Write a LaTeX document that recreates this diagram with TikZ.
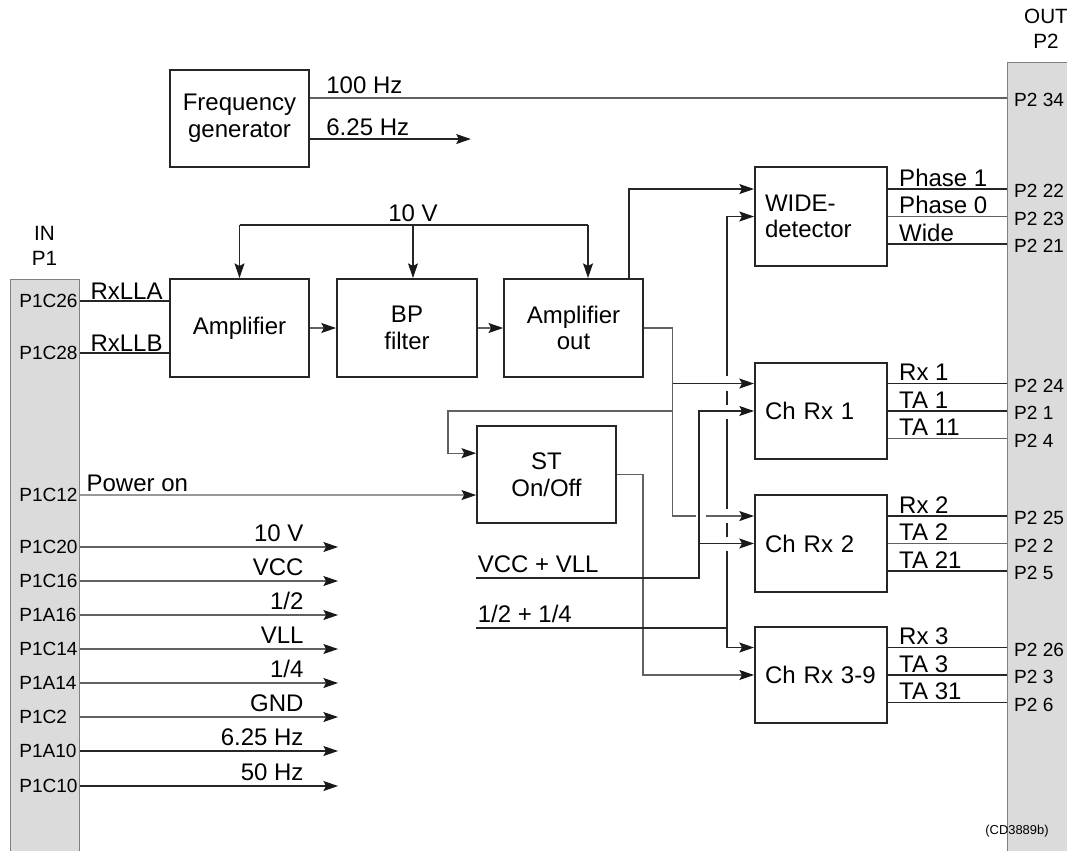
\documentclass[tikz,border=0pt]{standalone}
\usepackage{fontspec}
\setmainfont{Liberation Sans}
\usetikzlibrary{arrows.meta, positioning}
\colorlet{wirecol}{black!85}
\colorlet{wiregray}{black!62}
\colorlet{barfill}{black!14}
\colorlet{bardraw}{black!50}
\newcommand{\blkfont}{\fontsize{18pt}{20pt}\selectfont}
\newcommand{\pinfont}{\fontsize{14.3pt}{16pt}\selectfont}
\newcommand{\hdrfont}{\fontsize{15.5pt}{18pt}\selectfont}
\newcommand{\tagfont}{\fontsize{9.7pt}{11pt}\selectfont}
\tikzset{
  >={Stealth[length=11pt, width=7.5pt, inset=2pt, color=black!90]},
  blk/.style={draw=black!85, line width=1.5pt, minimum width=104pt, minimum height=73pt, inner sep=0pt, align=center, font=\blkfont},
  rx blk/.style={blk, minimum width=99pt, minimum height=72pt, text width=84pt, inner xsep=7.5pt, align=left},
  bar/.style={draw=bardraw, fill=barfill, line width=0.8pt, anchor=north west, inner sep=0pt},
  wire/.style={draw=wirecol, line width=0.85pt},
  gray wire/.style={draw=wiregray, line width=0.85pt},
  sig/.style={font=\blkfont, inner sep=1pt},
  out sig/.style={sig, pos=0, anchor=base west, xshift=7pt, yshift=2pt},
  supply sig/.style={sig, anchor=base east, xshift=-24.5pt, yshift=4pt},
  p1 pin/.style={font=\pinfont, inner sep=1pt, anchor=west, xshift=-47pt},
  p2 pin/.style={font=\pinfont, inner sep=1pt, anchor=west, xshift=4pt, yshift=-1.5pt},
  hdr/.style={font=\hdrfont, inner sep=0pt}
}

\begin{document}
\begin{tikzpicture}[x=0.75pt, y=-0.75pt]
  \useasboundingbox (0,0) rectangle (1067,850);

  % --- connectors P1 / P2 ---
  \node[bar, minimum width=51.75pt, minimum height=435pt] (p1) at (10,279) {};
  \node[bar, minimum width=52.5pt, minimum height=600pt] (p2) at (1007,62) {};
  \node[hdr] (in) at (44.5,233) {IN};
  \node[hdr] (in p1) at (44.5,258) {P1};
  \node[hdr] (out) at (1046,16) {OUT};
  \node[hdr] (out p2) at (1046,41) {P2};

  % --- blocks ---
  \node[blk] (freq) at (239.5,118.5) {Frequency\\generator};
  \node[blk, minimum height=73.5pt] (amp) at (239.5,328) {Amplifier};
  \node[blk, minimum width=105pt, minimum height=73.5pt] (bp) at (407,328) {BP\\filter};
  \node[blk, minimum height=73.5pt] (ampout) at (573.5,328) {Amplifier\\out};
  \node[blk] (st) at (546.5,474.5) {ST\\On/Off};
  \node[rx blk, minimum height=74pt] (wide) at (821,216.5) {WIDE-\\detector};
  \node[rx blk] (rx1) at (821,411) {Ch Rx 1};
  \node[rx blk, minimum height=73pt] (rx2) at (821,543.5) {Ch Rx 2};
  \node[rx blk] (rx3) at (821,675) {Ch Rx 3-9};

  % --- frequency generator outputs ---
  \draw[gray wire] ([yshift=15.4pt]freq.east) coordinate (f100) -- (f100 -| p2.west)
    node[sig, pos=0, anchor=base west, xshift=11pt, yshift=3.5pt] {100 Hz} node[p2 pin] {P2 34};
  \draw[wire,->] ([yshift=-15.4pt]freq.east) -- ++(161,0)
    node[sig, pos=0, anchor=base west, xshift=11pt, yshift=3pt] {6.25 Hz};

  % --- receiver inputs ---
  \draw[wire] (p1.east |- 0,301) node[p1 pin] {P1C26} -- ([yshift=20.25pt]amp.west)
    node[sig, anchor=base east, xshift=-3.5pt, yshift=1.5pt] {RxLLA};
  \draw[wire] (p1.east |- 0,353) node[p1 pin] {P1C28} -- ([yshift=-18.75pt]amp.west)
    node[sig, anchor=base east, xshift=-3.5pt, yshift=1.5pt] {RxLLB};

  % --- 10 V bus ---
  \coordinate (v10) at (413,225);
  \coordinate (ao tap) at ([xshift=10.9pt]ampout.north);
  \draw[wire] (amp.north |- v10) -- (ao tap |- v10);
  \node[sig, anchor=base, yshift=3pt] (v10 lbl) at (v10) {10 V};
  \draw[wire,->] (amp.north |- v10) -- (amp.north);
  \draw[wire,->] (v10) -- (v10 |- bp.north);
  \draw[wire,->] (ao tap |- v10) -- (ao tap);

  % --- amplifier chain ---
  \draw[gray wire,->] (amp.east) -- (bp.west);
  \draw[gray wire,->] (bp.east) -- (ampout.west);

  % --- input points of detector and channels ---
  \coordinate (wide a) at ([yshift=20.6pt]wide.west);
  \coordinate (rx1 a) at ([yshift=20.6pt]rx1.west);
  \coordinate (rx2 a) at ([yshift=20.6pt]rx2.west);
  \coordinate (rx3 a) at ([yshift=20.6pt]rx3.west);
  \coordinate (ja) at ([xshift=21.75pt]ampout.east);
  \coordinate (jb) at (699,0);
  \coordinate (jc) at (727,0);
  \coordinate (jd) at (643,0);
  \coordinate (jf) at (448,0);

  % amplifier out -> detector / channels / ST
  \draw[wire,->] ([xshift=41.6pt]ampout.north) |- (wide a);
  \draw[gray wire,->] (ampout.east) -| (ja |- rx2 a) -- ++(23,0) ++(10,0) -- (rx2 a);
  \draw[wire,->] (ja |- rx1 a) -- (rx1 a);
  \draw[gray wire,->] (ja |- rx1.west) -- (jf |- rx1.west) |- ([yshift=16pt]st.west);

  % power on
  \draw[gray wire,->] (p1.east |- 0,495) node[p1 pin] {P1C12} -- ([yshift=-15.4pt]st.west)
    node[sig, pos=0, anchor=base west, xshift=3.5pt, yshift=3pt] {Power on};

  % ST out -> Ch Rx 3-9
  \draw[gray wire,->] (st.east) -| (jd |- rx3.west) -- (rx3.west);

  % VCC + VLL
  \node[sig, anchor=south west, inner ysep=3.5pt] (vcc vll) at (st.west |- 0,578) {VCC + VLL};
  \draw[wire,->] (vcc vll.south west) -- (jb |- vcc vll.south west) |- (rx1.west);
  \draw[wire,->] (jb |- rx2.west) -- (rx2.west);

  % 1/2 + 1/4
  \node[sig, anchor=south west, inner ysep=3.5pt] (half) at (st.west |- 0,628) {1/2 + 1/4};
  \draw[wire,->] (half.south west) -| (jc |- rx3 a) -- (rx3 a);
  \draw[wire,->] (jc |- half.south west) -- (jc |- 0,551) (jc |- 0,537) -- (jc |- 0,523)
    (jc |- 0,509) -- (jc |- 0,419) (jc |- 0,405) -- (jc |- 0,391) (jc |- 0,376) |- (wide.west);

  % --- outputs to P2 ---
  \draw[wire] ([yshift=20.6pt]wide.east) coordinate (wo1) -- (wo1 -| p2.west) node[out sig] {Phase 1} node[p2 pin] {P2 22};
  \draw[gray wire] (wide.east) coordinate (wo2) -- (wo2 -| p2.west) node[out sig] {Phase 0} node[p2 pin] {P2 23};
  \draw[wire] ([yshift=-20.6pt]wide.east) coordinate (wo3) -- (wo3 -| p2.west) node[out sig] {Wide} node[p2 pin] {P2 21};

  \draw[wire] ([yshift=20.6pt]rx1.east) coordinate (r1o1) -- (r1o1 -| p2.west) node[out sig] {Rx 1} node[p2 pin] {P2 24};
  \draw[wire] (rx1.east) coordinate (r1o2) -- (r1o2 -| p2.west) node[out sig] {TA 1} node[p2 pin] {P2 1};
  \draw[gray wire] ([yshift=-20.6pt]rx1.east) coordinate (r1o3) -- (r1o3 -| p2.west) node[out sig] {TA 11} node[p2 pin] {P2 4};

  \draw[wire] ([yshift=20.6pt]rx2.east) coordinate (r2o1) -- (r2o1 -| p2.west) node[out sig] {Rx 2} node[p2 pin] {P2 25};
  \draw[gray wire] (rx2.east) coordinate (r2o2) -- (r2o2 -| p2.west) node[out sig] {TA 2} node[p2 pin] {P2 2};
  \draw[wire] ([yshift=-20.6pt]rx2.east) coordinate (r2o3) -- (r2o3 -| p2.west) node[out sig] {TA 21} node[p2 pin] {P2 5};

  \draw[wire] ([yshift=20.6pt]rx3.east) coordinate (r3o1) -- (r3o1 -| p2.west) node[out sig] {Rx 3} node[p2 pin] {P2 26};
  \draw[wire] (rx3.east) coordinate (r3o2) -- (r3o2 -| p2.west) node[out sig] {TA 3} node[p2 pin] {P2 3};
  \draw[wire] ([yshift=-20.6pt]rx3.east) coordinate (r3o3) -- (r3o3 -| p2.west) node[out sig] {TA 31} node[p2 pin] {P2 6};

  % --- supplies from P1 ---
  \draw[gray wire,->] (p1.east |- 0,547) node[p1 pin] {P1C20} -- ++(258,0) node[supply sig] {10 V};
  \draw[gray wire,->] (p1.east |- 0,581) node[p1 pin] {P1C16} -- ++(258,0) node[supply sig] {VCC};
  \draw[gray wire,->] (p1.east |- 0,615) node[p1 pin] {P1A16} -- ++(258,0) node[supply sig] {1/2};
  \draw[gray wire,->] (p1.east |- 0,649) node[p1 pin] {P1C14} -- ++(258,0) node[supply sig] {VLL};
  \draw[gray wire,->] (p1.east |- 0,683) node[p1 pin] {P1A14} -- ++(258,0) node[supply sig] {1/4};
  \draw[gray wire,->] (p1.east |- 0,717) node[p1 pin] {P1C2} -- ++(258,0) node[supply sig] {GND};
  \draw[wire,->] (p1.east |- 0,751) node[p1 pin] {P1A10} -- ++(258,0) node[supply sig] {6.25 Hz};
  \draw[wire,->] (p1.east |- 0,786) node[p1 pin] {P1C10} -- ++(258,0) node[supply sig] {50 Hz};

  \node[font=\tagfont] (tag) at (1017,831) {(CD3889b)};
\end{tikzpicture}
\end{document}
